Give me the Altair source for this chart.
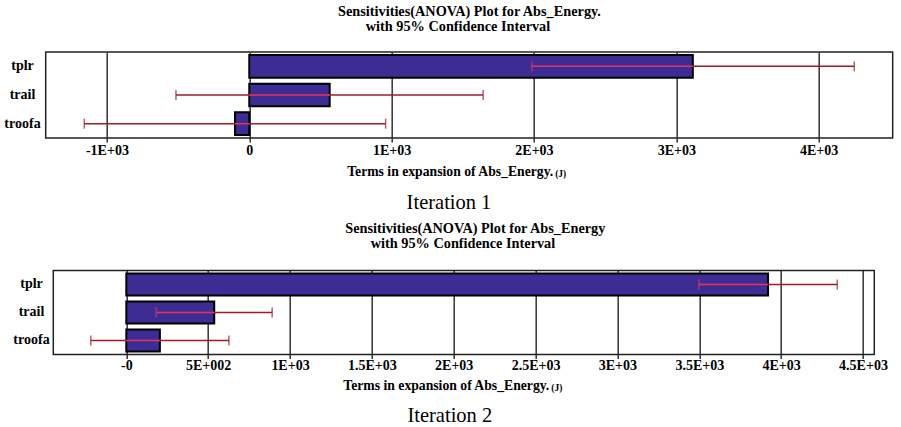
import json

import altair as alt
import pandas as pd

# Model terms, top to bottom
terms = ["tplr", "trail", "troofa"]

# Iteration 1: sensitivity of Abs_Energy (J) with 95% confidence bounds
it1_effect = [3116, 565, -100]
it1_ci_low = [1985, -515, -1159]
it1_ci_high = [4250, 1643, 958]
it1_ticks = [-1000, 0, 1000, 2000, 3000, 4000]
it1_tick_labels = ["-1E+03", "0", "1E+03", "2E+03", "3E+03", "4E+03"]
it1_domain = [-1430, 4520]

# Iteration 2
it2_effect = [3920, 537, 205]
it2_ci_low = [3498, 183, -217]
it2_ci_high = [4343, 891, 627]
it2_ticks = [0, 500, 1000, 1500, 2000, 2500, 3000, 3500, 4000, 4500]
it2_tick_labels = ["-0", "5E+002", "1E+03", "1.5E+03", "2E+03", "2.5E+03",
                   "3E+03", "3.5E+03", "4E+03", "4.5E+03"]
it2_domain = [-446, 4569]

SERIF = "Liberation Serif"
BAR_FILL = "#3c2c93"
CI_OUT = "#9c1c2c"
CI_IN = "#d8356f"
FRAME = "#222222"


def text_layer(text, x, y, size, weight="bold", align="center", baseline="middle"):
    return (
        alt.Chart(pd.DataFrame({"t": [text]}))
        .mark_text(font=SERIF, fontSize=size, fontWeight=weight, align=align,
                   baseline=baseline, color="black")
        .encode(text="t:N", x=alt.value(x), y=alt.value(y))
    )


def panel(effect, lo, hi, ticks, tick_labels, domain, geo, title_lines, caption):
    df = pd.DataFrame({"term": terms, "effect": effect, "lo": lo, "hi": hi})
    base = (
        alt.Chart(df)
        .transform_calculate(bar_lo="min(0, datum.effect)",
                             bar_hi="max(0, datum.effect)")
        .transform_calculate(in_lo="max(datum.lo, datum.bar_lo)",
                             in_hi="min(datum.hi, datum.bar_hi)")
    )

    x0, x1 = geo["x0"], geo["x0"] + geo["pw"]
    xscale = alt.Scale(domain=domain, nice=False, zero=False, range=[x0, x1])
    label_expr = f"{json.dumps(tick_labels)}[indexof({json.dumps(ticks)}, datum.value)]"
    xaxis = alt.Axis(
        values=ticks, labelExpr=label_expr, title=None,
        grid=True, gridColor="#333333", gridWidth=1.5,
        domain=False, ticks=True, tickSize=4, tickColor="#333333", tickWidth=1.5,
        labelFont=SERIF, labelFontSize=14, labelFontWeight="bold",
        labelColor="black", labelBaseline="middle", labelPadding=geo["xlab"],
        labelFlush=False, labelOverlap=False,
    )
    yaxis = alt.Axis(
        title=None, ticks=False, tickSize=0, domain=False, grid=False,
        labelAlign="center", labelBaseline="middle", labelPadding=geo["ylab"],
        labelFont=SERIF, labelFontSize=14, labelFontWeight="bold",
        labelColor="black", minExtent=44, maxExtent=44,
    )
    yscale = alt.Scale(paddingInner=0.21, paddingOuter=0.105)

    def xq(field):
        return alt.X(field, type="quantitative", scale=xscale, axis=xaxis)

    def yn():
        return alt.Y("term:N", sort=terms, scale=yscale, axis=yaxis)

    bars = base.mark_bar(fill=BAR_FILL, stroke="black", strokeWidth=2).encode(
        x=xq("bar_lo"), x2="bar_hi:Q", y=yn()
    )
    ci = base.mark_rule(color=CI_OUT, strokeWidth=1.5).encode(
        x=xq("lo"), x2="hi:Q", y=yn()
    )
    ci_in = (
        base.transform_filter("datum.in_hi > datum.in_lo")
        .mark_rule(color=CI_IN, strokeWidth=1.5)
        .encode(x=xq("in_lo"), x2="in_hi:Q", y=yn())
    )
    caps = (
        base.transform_fold(["lo", "hi"], as_=["end", "pos"])
        .transform_calculate(inside="datum.pos >= datum.bar_lo && datum.pos <= datum.bar_hi")
        .mark_tick(thickness=1.5, size=10)
        .encode(
            x=xq("pos"), y=yn(),
            color=alt.condition("datum.inside", alt.value(CI_IN), alt.value(CI_OUT)),
        )
    )

    h = geo["h"]
    # plot frame around the scaled x range
    frame = (
        alt.Chart(pd.DataFrame({"f": [0]}))
        .mark_rect(fillOpacity=0, stroke=FRAME, strokeWidth=1.5)
        .encode(x=alt.value(x0), x2=alt.value(x1), y=alt.value(0), y2=alt.value(h))
    )

    texts = [
        text_layer(title_lines[0], geo["t1x"], geo["t1y"], 14.3),
        text_layer(title_lines[1], geo["t2x"], geo["t2y"], 14.3),
        text_layer("Terms in expansion of Abs_Energy.", geo["axr"], h + geo["axy"], 13.7,
                   align="right"),
        text_layer("(J)", geo["axr"] + 2, h + geo["axy"] + 2, 9.5, align="left"),
        text_layer(caption, geo["capx"], h + geo["capy"], 20.5, weight="normal"),
    ]

    return alt.layer(bars, ci, ci_in, caps, frame, *texts).properties(
        width=x1, height=h
    )


geo1 = dict(x0=0, pw=847, h=86, xlab=8.7, ylab=23.7,
            t1x=423.8, t1y=-40, t2x=412.3, t2y=-25,
            axr=507.5, axy=34.3, capx=403.3, capy=65)
geo2 = dict(x0=7.6, pw=821, h=84, xlab=7.3, ylab=14.7,
            t1x=429.6, t1y=-41.3, t2x=417.3, t2y=-26.3,
            axr=503.6, axy=32, capx=404.1, capy=62)

top = panel(it1_effect, it1_ci_low, it1_ci_high, it1_ticks, it1_tick_labels,
            it1_domain, geo1,
            ["Sensitivities(ANOVA) Plot for Abs_Energy.", "with 95% Confidence Interval"],
            "Iteration 1")
bottom = panel(it2_effect, it2_ci_low, it2_ci_high, it2_ticks, it2_tick_labels,
               it2_domain, geo2,
               ["Sensitivities(ANOVA) Plot for Abs_Energy", "with 95% Confidence Interval"],
               "Iteration 2")

chart = (
    alt.vconcat(top, bottom, spacing=7.5)
    .properties(padding={"left": 1.7, "top": 5, "right": 0, "bottom": 0},
                background="white")
    .configure_view(stroke=None)
)

chart.save("out.html", embed_options={"renderer": "svg", "actions": False})
